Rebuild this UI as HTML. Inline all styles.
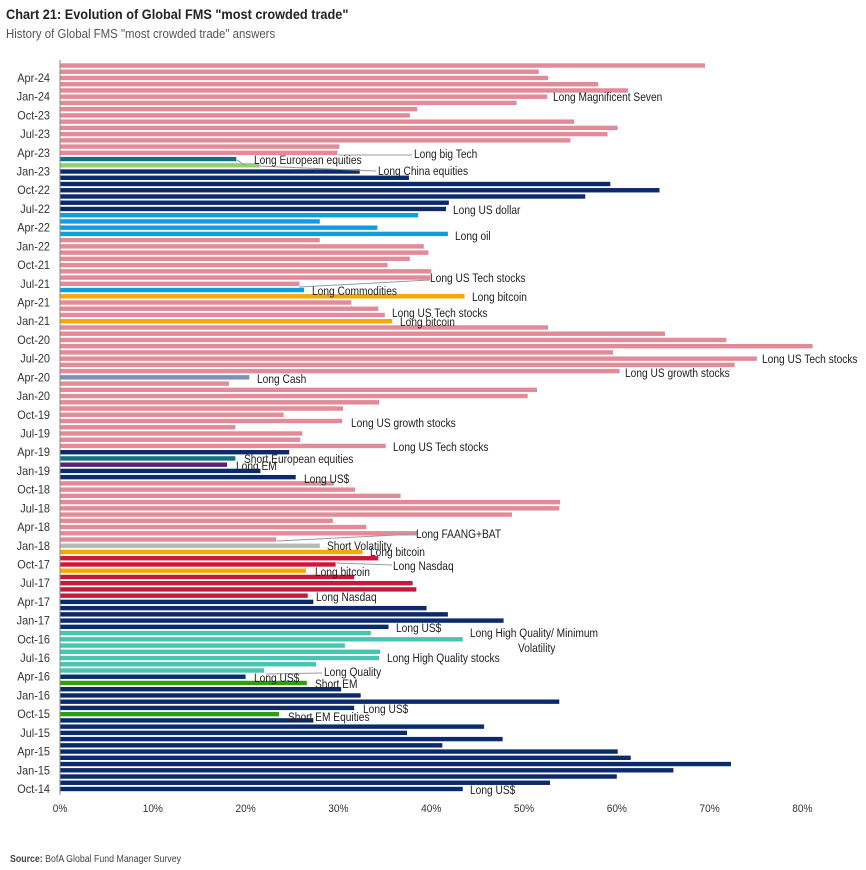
<!DOCTYPE html>
<html><head><meta charset="utf-8"><style>
body{margin:0;background:#fff;width:866px;height:870px;overflow:hidden;font-family:"Liberation Sans",sans-serif}
svg{position:absolute;left:0;top:0}
</style></head><body>
<svg id="chart" width="866" height="870" xmlns="http://www.w3.org/2000/svg">
<text transform="translate(6,19) scale(0.91,1)" font-weight="bold" font-size="14" fill="#222">Chart 21: Evolution of Global FMS "most crowded trade"</text>
<text transform="translate(6,38) scale(0.88,1)" font-size="13" fill="#555">History of Global FMS "most crowded trade" answers</text>
<text transform="translate(10,862) scale(0.88,1)" font-size="10" fill="#444"><tspan font-weight="bold">Source:</tspan> BofA Global Fund Manager Survey</text>
<g id="bars"></g><g id="axes"></g><g id="notes"></g>
</svg>
<script>
// bars from Jun-24 (top) down to Oct-14 (bottom)
const values = [69.5,51.6,52.6,58,61.2,52.5,49.2,38.5,37.7,55.4,60.1,59,55,30.1,29.9,19,21.5,32.3,37.6,59.3,64.6,56.6,41.9,41.6,38.6,28,34.2,41.8,28,39.2,39.7,37.7,35.3,40,39.9,25.8,26.3,43.6,31.4,34.3,35,35.8,52.6,65.2,71.8,81.1,59.6,75.1,72.7,60.3,20.4,18.2,51.4,50.4,34.4,30.5,24.1,30.4,18.9,26.1,25.9,35.1,24.7,18.9,18,21.6,25.4,29.5,31.8,36.7,53.9,53.8,48.7,29.4,33,38.5,23.3,28,32.6,34.3,29.7,26.5,31.7,38,38.4,26.7,27.3,39.5,41.8,47.8,35.4,33.5,43.4,30.7,34.5,34.4,27.6,22,20,26.6,30.3,32.4,53.8,31.7,23.6,27.3,45.7,37.4,47.7,41.2,60.1,61.5,72.3,66.1,60,52.8,43.4];
const categories = ["P","P","P","P","P","P","P","P","P","P","P","P","P","P","P","T","G","N","N","N","N","N","N","N","B","B","B","B","P","P","P","P","P","P","P","P","B","O","P","P","P","O","P","P","P","P","P","P","P","P","S","P","P","P","P","P","P","P","P","P","P","P","N","T","U","N","N","P","P","P","P","P","P","P","P","P","P","Y","O","R","R","O","R","R","R","R","N","N","N","N","N","Q","Q","Q","Q","Q","Q","Q","N","E","N","N","N","N","E","N","N","N","N","N","N","N","N","N","N","N","N"];
const colorMap = {P:"#e38a98",N:"#0b2a6b",T:"#11717f",G:"#92cf78",B:"#0ba0dd",O:"#f4a900",S:"#7d8fb8",U:"#5b2272",Y:"#b9b9b9",R:"#c8193c",Q:"#48c5b1",E:"#2f9e0e"};
const monthLabels = ["Apr-24","Jan-24","Oct-23","Jul-23","Apr-23","Jan-23","Oct-22","Jul-22","Apr-22","Jan-22","Oct-21","Jul-21","Apr-21","Jan-21","Oct-20","Jul-20","Apr-20","Jan-20","Oct-19","Jul-19","Apr-19","Jan-19","Oct-18","Jul-18","Apr-18","Jan-18","Oct-17","Jul-17","Apr-17","Jan-17","Oct-16","Jul-16","Apr-16","Jan-16","Oct-15","Jul-15","Apr-15","Jan-15","Oct-14"];
const xTicks = [0,10,20,30,40,50,60,70,80];
const NS="http://www.w3.org/2000/svg";
const x0=60, pxPer=9.28, yBottom=789, step=6.237;
const xs = v => x0 + v*pxPer;
const ys = i => yBottom - (values.length-1-i)*step;
function mk(t,a){const e=document.createElementNS(NS,t);for(const k in a)e.setAttribute(k,a[k]);return e;}
const bars=document.getElementById('bars');
values.forEach((v,i)=>{
  const r=mk('rect',{x:x0,y:ys(i)-2.2,width:xs(v)-x0,height:4.4,fill:colorMap[categories[i]]});
  
  
  bars.appendChild(r);
});
const axes=document.getElementById('axes');
const ax=mk('line',{x1:x0,y1:60,x2:x0,y2:795,stroke:'#888','stroke-width':1});


axes.appendChild(ax);
monthLabels.forEach((m,k)=>{
  const t=mk('text',{transform:'translate(50,'+(ys(2+3*k)+4)+') scale(0.95,1)','text-anchor':'end','font-size':11.5,fill:'#333'});
  t.textContent=m;
  
  
  axes.appendChild(t);
});
xTicks.forEach(v=>{
  const t=mk('text',{transform:'translate('+xs(v)+',812) scale(0.92,1)','text-anchor':'middle','font-size':11,fill:'#333'});
  t.textContent=v+'%';
  
  
  axes.appendChild(t);
});
const notes=document.getElementById('notes');
const lines=[[338,155,412,155],[237,160,246,166],[258,166,376,171],[299,287,430,280],[277,541,416,534],[336,563,392,565],[266,674,322,673]];
lines.forEach(l=>{
  const e=mk('line',{x1:l[0],y1:l[1],x2:l[2],y2:l[3],stroke:'#999','stroke-width':1});
  
  
  notes.appendChild(e);
});
const ann=[["Long Magnificent Seven",553,97],["Long big Tech",414,154],["Long European equities",254,160],["Long China equities",378,171],["Long US dollar",453,210],["Long oil",455,236],["Long US Tech stocks",430,278],["Long Commodities",312,291],["Long bitcoin",472,297],["Long US Tech stocks",392,313],["Long bitcoin",400,322],["Long US Tech stocks",762,359],["Long US growth stocks",625,373],["Long Cash",257,379],["Long US growth stocks",351,423],["Long US Tech stocks",393,447],["Short European equities",244,459],["Long EM",236,466],["Long US$",304,479],["Long FAANG+BAT",416,534],["Short Volatility",327,546],["Long bitcoin",370,552],["Long Nasdaq",393,566],["Long bitcoin",315,572],["Long Nasdaq",316,597],["Long US$",396,628],["Long High Quality/ Minimum",470,633],["Volatility",518,648],["Long High Quality stocks",387,658],["Long Quality",324,672],["Long US$",254,678],["Short EM",315,684],["Long US$",363,709],["Short EM Equities",288,717],["Long US$",470,790]];
ann.forEach(a=>{
  const t=mk('text',{transform:'translate('+a[1]+','+(a[2]+4)+') scale(0.85,1)','font-size':12,fill:'#222'});
  t.textContent=a[0];
  
  
  notes.appendChild(t);
});
</script>
</body></html>
